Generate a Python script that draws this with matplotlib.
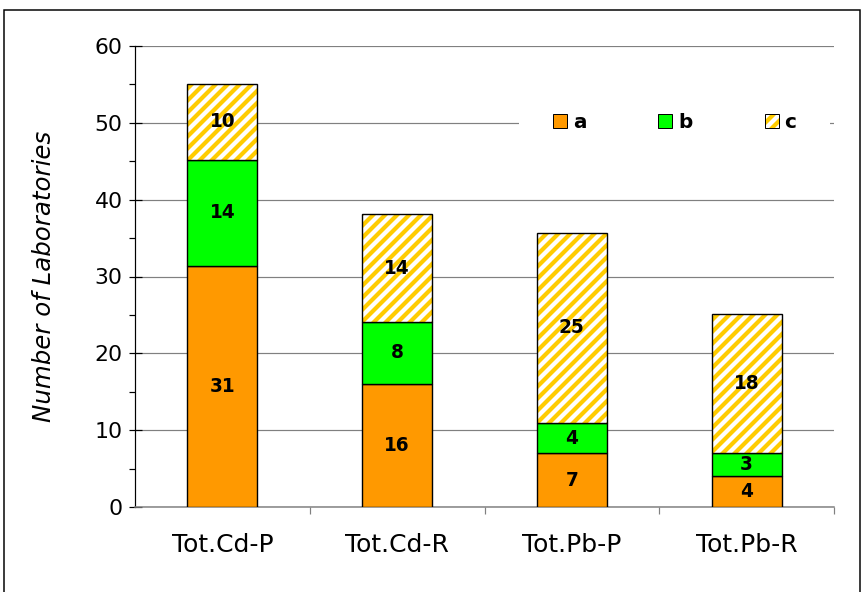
import numpy as np
import matplotlib.pyplot as plt
from matplotlib.patches import Rectangle, Patch

# Stacked bar chart: number of laboratories per class

categories = ['Tot.Cd-P', 'Tot.Cd-R', 'Tot.Pb-P', 'Tot.Pb-R']
a_vals = np.array([31.4, 16.0, 7.0, 4.0])
b_vals = np.array([13.8, 8.1, 3.9, 3.0])
c_vals = np.array([9.9, 14.0, 24.8, 18.1])
a_labels = ['31', '16', '7', '4']
b_labels = ['14', '8', '4', '3']
c_labels = ['10', '14', '25', '18']

plt.rcParams['hatch.linewidth'] = 4.2

fig = plt.figure(figsize=(12, 592 / 72), dpi=72)
ax = fig.add_axes([135 / 864, 1 - 507 / 592, 699 / 864, 461 / 592])

x = np.arange(len(categories))
w = 0.4
yellow = '#FFCC00'

ax.bar(x, a_vals, w, color='#FF9900', edgecolor='black', linewidth=1.4, zorder=3)
ax.bar(x, b_vals, w, bottom=a_vals, color='#00FF00', edgecolor='black', linewidth=1.4, zorder=3)
# hatched part: yellow stripes, then a black outline on top
ax.bar(x, c_vals, w, bottom=a_vals + b_vals, color='white', edgecolor=yellow,
       hatch='//', linewidth=0, zorder=3)
ax.bar(x, c_vals, w, bottom=a_vals + b_vals, fill=False, edgecolor='black',
       linewidth=1.4, zorder=3)

# segment labels
for i in range(len(x)):
    ax.text(x[i], a_vals[i] / 2, a_labels[i], ha='center', va='center',
            fontsize=18.5, fontweight='bold', zorder=4)
    ax.text(x[i], a_vals[i] + b_vals[i] / 2, b_labels[i], ha='center', va='center',
            fontsize=18.5, fontweight='bold', zorder=4)
    ax.text(x[i], a_vals[i] + b_vals[i] + c_vals[i] / 2, c_labels[i], ha='center',
            va='center', fontsize=18.5, fontweight='bold', zorder=4)

ax.set_xlim(-0.5, 3.5)
ax.set_ylim(0, 60)
ax.set_yticks(np.arange(0, 61, 10))
ax.set_yticks(np.arange(5, 60, 10), minor=True)
ax.yaxis.grid(True, color='#808080', linewidth=1.2, zorder=0)
ax.set_axisbelow(True)

# category labels on minor ticks, tick marks at bar boundaries
ax.set_xticks([0.5, 1.5, 2.5, 3.5])
ax.set_xticklabels([])
ax.set_xticks(x, minor=True)
ax.set_xticklabels(categories, minor=True, fontsize=25)
ax.tick_params(axis='x', which='major', direction='out', length=7, color='#808080', width=1.2)
ax.tick_params(axis='x', which='minor', length=0, pad=26)
ax.tick_params(axis='y', which='major', direction='inout', length=13, width=1.2, labelsize=22, pad=6)
ax.tick_params(axis='y', which='minor', direction='out', length=6, width=1.2)

ax.spines['top'].set_visible(False)
ax.spines['right'].set_visible(False)
ax.spines['bottom'].set_color('#808080')
ax.spines['bottom'].set_linewidth(1.5)
ax.spines['left'].set_linewidth(1.2)

ax.set_ylabel('Number of Laboratories', fontsize=24.5, style='italic', labelpad=38)

handles = [Patch(facecolor='#FF9900', edgecolor='black'),
           Patch(facecolor='#00FF00', edgecolor='black'),
           (Patch(facecolor='white', edgecolor=yellow, hatch='//', linewidth=0),
            Patch(fill=False, edgecolor='black'))]
leg = ax.legend(handles, ['a', 'b', 'c'], ncol=3, loc='center',
                bbox_to_anchor=(0.772, 0.835),
                frameon=True, fancybox=False, framealpha=1, edgecolor='none',
                prop={'size': 20, 'weight': 'bold'}, handlelength=0.7, handleheight=0.7,
                handletextpad=0.3, columnspacing=3.6, borderpad=1.7)
leg.set_zorder(5)

# outer frame around the figure
fig.patches.append(Rectangle((4 / 864, -0.05), 856 / 864, 1.05 - 10 / 592,
                             transform=fig.transFigure, fill=False,
                             edgecolor='black', linewidth=1.5))

fig.savefig('out.png', dpi=72)
